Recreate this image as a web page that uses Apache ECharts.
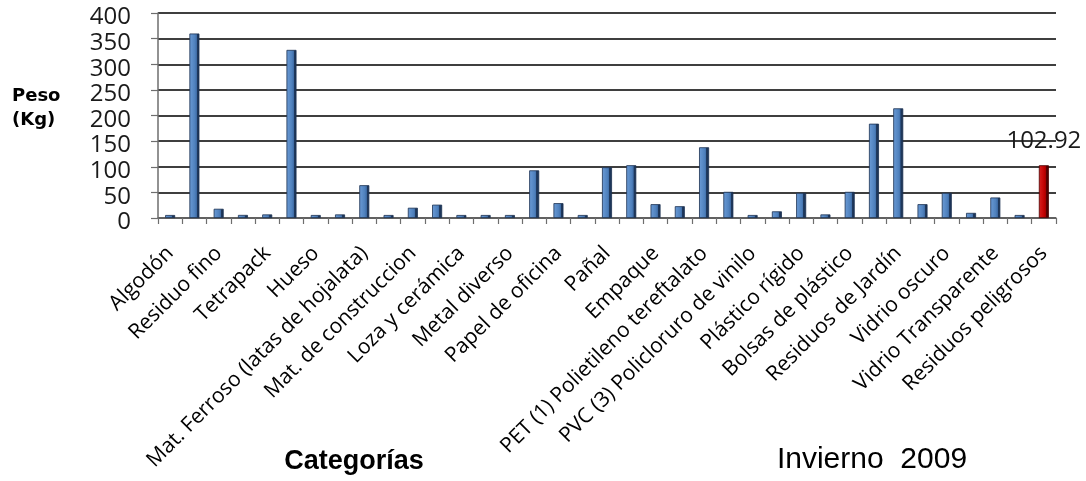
<!DOCTYPE html>
<html>
<head>
<meta charset="utf-8">
<script src="https://cdn.jsdelivr.net/npm/echarts@6/dist/echarts.min.js"></script>
<style>
html,body{margin:0;padding:0;background:#fff;}
#chart{width:1086px;height:481px;}
</style>
</head>
<body>
<div id="chart"></div>
<script>
// Categories: only every other category name is printed in the reference
const categories = [
  'Algodón', '', 'Residuo fino', '', 'Tetrapack', '', 'Hueso', '',
  'Mat. Ferroso (latas de hojalata)', '', 'Mat. de construccion', '',
  'Loza y cerámica', '', 'Metal diverso', '', 'Papel de oficina', '',
  'Pañal', '', 'Empaque', '', 'PET (1) Polietileno tereftalato', '',
  'PVC (3) Policloruro de vinilo', '', 'Plástico rígido', '',
  'Bolsas de plástico', '', 'Residuos de Jardín', '', 'Vidrio oscuro', '',
  'Vidrio Transparente', '', 'Residuos peligrosos'
];
// Weight (kg)
const pesos = [
  1.5, 360, 18, 6, 7, 328, 2, 7, 64, 2, 20, 26, 5, 2, 2, 93, 29, 1,
  99, 103, 27, 23, 138, 51, 3, 13, 49, 7, 51, 184, 214, 27, 49, 10,
  40, 1, 102.92
];
const highlightIndex = 36;   // 'Residuos peligrosos' drawn in red with its value
const yTicks = { min: 0, max: 400, interval: 50 };
const yAxisTitle = 'Peso\n(Kg)';
const xAxisTitle = 'Categorías';
const seasonTitle = 'Invierno  2009';

const blueFill = new echarts.graphic.LinearGradient(0, 0, 1, 0, [
  { offset: 0, color: '#6b9bd6' },
  { offset: 0.55, color: '#4f81bd' },
  { offset: 0.72, color: '#3f6ca6' },
  { offset: 0.73, color: '#1f3a60' },
  { offset: 1, color: '#1a3152' }
]);
const redFill = new echarts.graphic.LinearGradient(0, 0, 1, 0, [
  { offset: 0, color: '#d92020' },
  { offset: 0.55, color: '#c00000' },
  { offset: 0.72, color: '#a00000' },
  { offset: 0.73, color: '#5c0000' },
  { offset: 1, color: '#4a0000' }
]);

const seriesData = pesos.map((v, i) => {
  if (i === highlightIndex) {
    return {
      value: v,
      itemStyle: { color: redFill, borderColor: '#4a0000' },
      label: {
        show: true, position: 'top', distance: 12,
        fontFamily: 'Open Sans', fontSize: 24, color: '#1a1a1a',
        formatter: (p) => p.value.toFixed(2)
      }
    };
  }
  return v;
});

const chart = echarts.init(document.getElementById('chart'), null, { renderer: 'canvas' });
chart.setOption({
  animation: false,
  backgroundColor: '#ffffff',
  grid: { left: 158, right: 30, top: 13, bottom: 263, containLabel: false },
  xAxis: {
    type: 'category',
    data: categories,
    boundaryGap: true,
    axisLine: { show: true, lineStyle: { color: '#6e6e6e', width: 1.5 } },
    axisTick: { show: true, length: 6, lineStyle: { color: '#6e6e6e', width: 1.2 } },
    axisLabel: {
      interval: 0, rotate: 45, margin: 32,
      fontFamily: 'Open Sans', fontSize: 21, color: '#000'
    },
    splitLine: { show: false }
  },
  yAxis: {
    type: 'value',
    min: yTicks.min, max: yTicks.max, interval: yTicks.interval,
    axisLine: { show: true, lineStyle: { color: '#6e6e6e', width: 1.5 } },
    axisTick: { show: true, inside: false, length: 7, lineStyle: { color: '#6e6e6e', width: 1.2 } },
    axisLabel: {
      margin: 27, fontFamily: 'Open Sans', fontSize: 24, color: '#1a1a1a',
      verticalAlign: 'top', lineHeight: 9
    },
    splitLine: { show: true, lineStyle: { color: '#3f3f3f', width: 2 } }
  },
  series: [{
    type: 'bar',
    data: seriesData,
    barWidth: 10,
    barMinHeight: 3,
    itemStyle: { color: blueFill, borderColor: '#1c3150', borderWidth: 0.8 },
    z: 3
  }],
  graphic: [
    {
      type: 'text', left: 12, top: 84,
      style: {
        text: yAxisTitle, fontFamily: 'DejaVu Sans', fontWeight: 'bold',
        fontSize: 18, lineHeight: 24, fill: '#000'
      }
    },
    {
      type: 'text', x: 354, y: 462,
      style: {
        text: xAxisTitle, fontFamily: 'Liberation Sans', fontWeight: 'bold',
        fontSize: 27, fill: '#000', align: 'center', verticalAlign: 'middle'
      }
    },
    {
      type: 'text', x: 872, y: 460,
      style: {
        text: seasonTitle, fontFamily: 'Liberation Sans',
        fontSize: 30, fill: '#000', align: 'center', verticalAlign: 'middle'
      }
    }
  ]
});
</script>
</body>
</html>
